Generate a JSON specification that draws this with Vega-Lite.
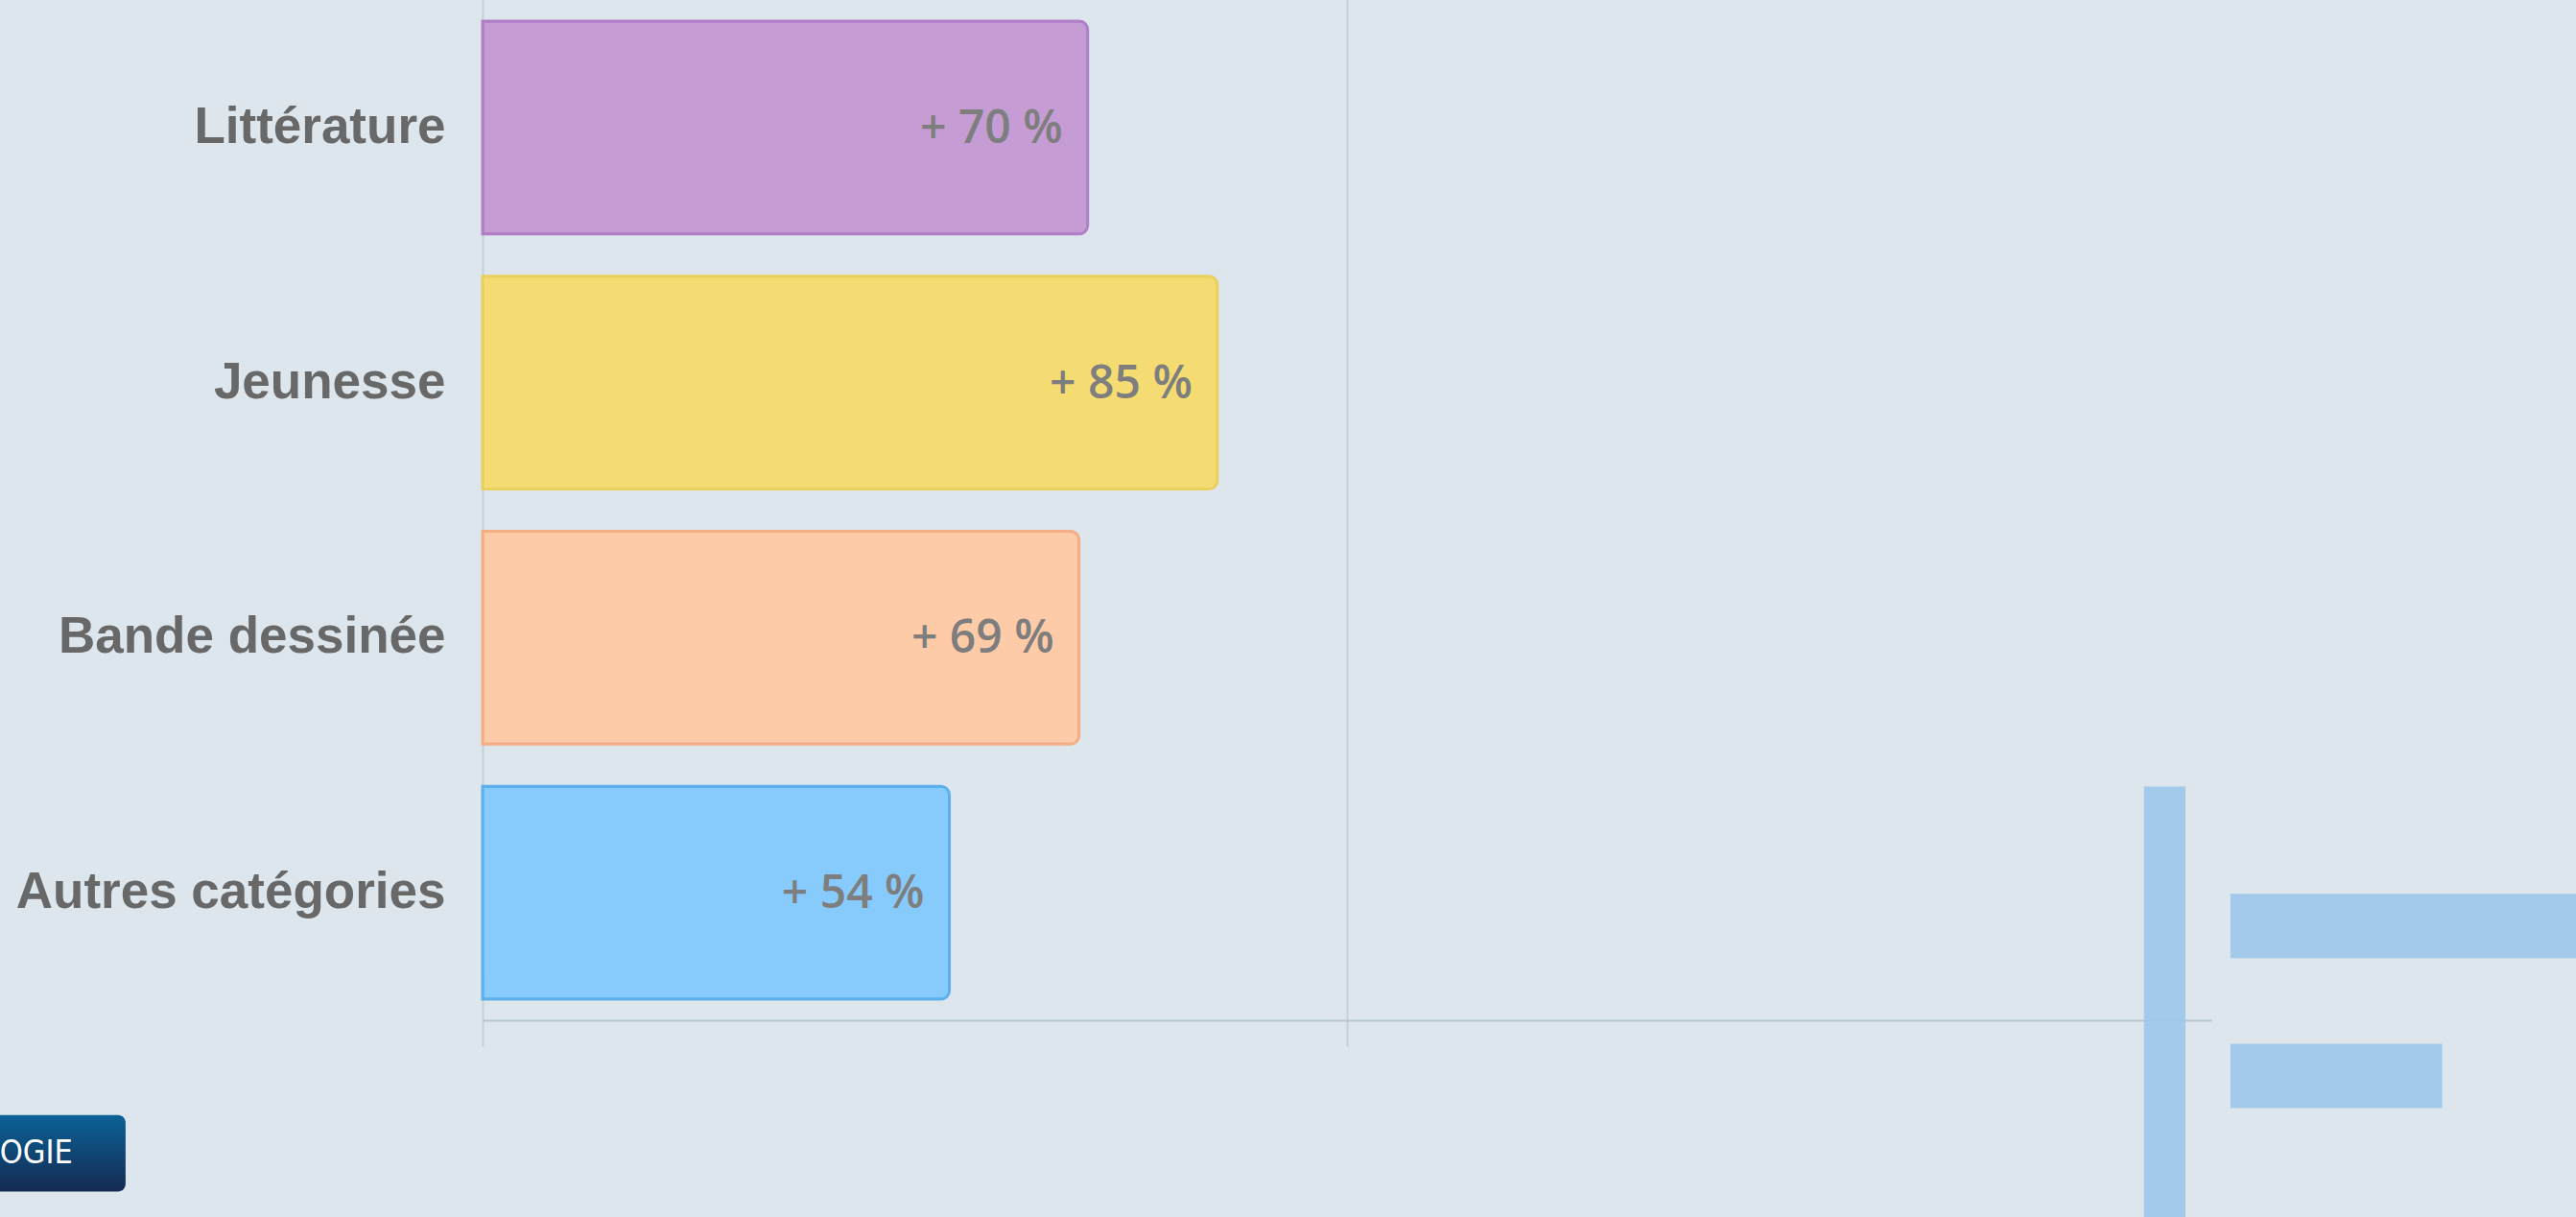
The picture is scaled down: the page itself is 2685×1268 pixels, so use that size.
{
  "$schema": "https://vega.github.io/schema/vega-lite/v6.json",
  "autosize": "none",
  "width": 1802,
  "height": 1063,
  "padding": {"left": 503, "top": 0, "right": 380, "bottom": 205},
  "background": "#dce6ec",
  "config": {"view": {"stroke": null}},
  "datasets": {
    "bars": [
      {"categorie": "Littérature", "hausse": 70, "label": "+ 70 %"},
      {"categorie": "Jeunesse", "hausse": 85, "label": "+ 85 %"},
      {"categorie": "Bande dessinée", "hausse": 69, "label": "+ 69 %"},
      {"categorie": "Autres catégories", "hausse": 54, "label": "+ 54 %"}
    ],
    "logo": [
      {"part": "tige", "x1": 192.2, "x2": 197.0, "y1": 22.9, "y2": -20},
      {"part": "haut", "x1": 202.2, "x2": 245, "y1": 12.4, "y2": 6.1},
      {"part": "bas", "x1": 202.2, "x2": 226.7, "y1": -2.3, "y2": -8.6}
    ],
    "bouton": [
      {"x1": -62, "x2": -41.3, "y1": -9.3, "y2": -16.8, "xt": -47.4, "yt": -13.05, "texte": "OGIE"}
    ]
  },
  "layer": [
    {
      "data": {"name": "bars"},
      "encoding": {
        "y": {
          "field": "categorie", "type": "nominal",
          "sort": ["Littérature", "Jeunesse", "Bande dessinée", "Autres catégories"],
          "scale": {"paddingInner": 0.165, "paddingOuter": 0.0825},
          "axis": {
            "title": null, "domain": false, "ticks": false, "labelPadding": 39,
            "labelFont": "Liberation Sans", "labelFontWeight": "bold", "labelFontSize": 53,
            "labelColor": "#686868", "labelLimit": 600
          }
        },
        "x": {
          "field": "hausse", "type": "quantitative",
          "scale": {"domain": [0, 200], "nice": false},
          "axis": {
            "title": null, "values": [0, 100], "labels": false,
            "grid": true, "gridColor": "#c4d0d8", "gridWidth": 2,
            "ticks": true, "tickSize": 27, "tickColor": "#c4d0d8", "tickWidth": 2,
            "domain": true, "domainColor": "#b8c6cf", "domainWidth": 2
          }
        }
      },
      "layer": [
        {
          "mark": {"type": "bar", "cornerRadiusEnd": 9, "strokeWidth": 3, "clip": false},
          "encoding": {
            "color": {
              "field": "categorie", "type": "nominal",
              "scale": {
                "domain": ["Littérature", "Jeunesse", "Bande dessinée", "Autres catégories"],
                "range": ["#c59dd4", "#f5dc72", "#fecba8", "#87cbfc"]
              },
              "legend": null
            },
            "stroke": {
              "field": "categorie", "type": "nominal",
              "scale": {
                "domain": ["Littérature", "Jeunesse", "Bande dessinée", "Autres catégories"],
                "range": ["#b07fc8", "#ead05e", "#f4ad84", "#5eb0ec"]
              },
              "legend": null
            }
          }
        },
        {
          "mark": {"type": "text", "align": "right", "baseline": "middle", "dx": -26, "dy": 2,
                   "font": "Open Sans", "fontWeight": 600, "fontSize": 48, "color": "#7e7e7e"},
          "encoding": {
            "text": {"field": "label", "type": "nominal"}
          }
        }
      ]
    },
    {
      "data": {"name": "logo"},
      "mark": {"type": "rect", "color": "#9cc7ea", "opacity": 0.9, "clip": false},
      "encoding": {
        "x": {"field": "x1", "type": "quantitative"},
        "x2": {"field": "x2"},
        "y": {"field": "y1", "type": "quantitative", "scale": {"domain": [0, 100], "nice": false, "zero": false}, "axis": null},
        "y2": {"field": "y2"}
      }
    },
    {
      "data": {"name": "bouton"},
      "encoding": {
        "y": {"field": "y1", "type": "quantitative", "scale": {"domain": [0, 100], "nice": false, "zero": false}, "axis": null}
      },
      "layer": [
        {
          "mark": {"type": "rect", "cornerRadius": 8, "clip": false,
                   "color": {"gradient": "linear", "x1": 0, "y1": 0, "x2": 0, "y2": 1,
                             "stops": [{"offset": 0, "color": "#0b6296"}, {"offset": 1, "color": "#142a52"}]}},
          "encoding": {
            "x": {"field": "x1", "type": "quantitative"},
            "x2": {"field": "x2"},
            "y2": {"field": "y2"}
          }
        },
        {
          "mark": {"type": "text", "align": "right", "baseline": "middle", "clip": false,
                   "font": "DejaVu Sans Condensed", "fontSize": 34, "color": "#ffffff"},
          "encoding": {
            "x": {"field": "xt", "type": "quantitative"},
            "y": {"field": "yt", "type": "quantitative"},
            "text": {"field": "texte", "type": "nominal"}
          }
        }
      ]
    }
  ],
  "resolve": {"scale": {"y": "independent"}}
}
